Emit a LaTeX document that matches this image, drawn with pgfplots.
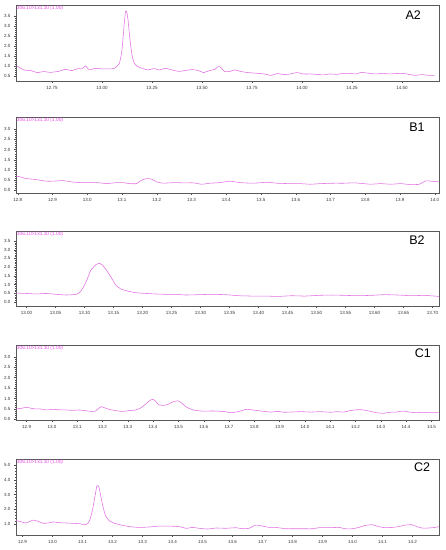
\documentclass[border=0pt]{standalone}
\usepackage{fontspec}
\setmainfont{Liberation Sans}
\usepackage{pgfplots}
\pgfplotsset{compat=1.18}
\definecolor{trace}{RGB}{226,110,226}
\definecolor{hdr}{RGB}{232,70,232}
\pgfplotsset{
 chrom/.style={
  scale only axis, width=423pt, height=76pt, anchor=north west,
  axis line style={black!65, line width=0.4pt},
  tick align=outside, major tick length=2pt, minor tick length=1pt,
  tick style={black!70, line width=0.3pt},
  minor x tick num=4, minor y tick num=4,
  xtick pos=left, ytick pos=left,
  ticklabel style={font=\fontsize{4.5}{5}\selectfont, text=black!80},
  /pgf/number format/assume math mode=true,
  /pgf/number format/fixed, /pgf/number format/fixed zerofill,
  yticklabel style={/pgf/number format/precision=1},
  xticklabel style={/pgf/number format/precision=1},
  enlargelimits=false,
 },
 tr/.style={trace, line width=0.55pt, mark=none, smooth, tension=0.3},
}
\newcommand{\headers}[3]{%
 \node[anchor=south west, font=\fontsize{5}{5}\selectfont, inner sep=0.3pt] at (rel axis cs:0,1) {x1,000};
 \node[anchor=north west, font=\fontsize{4.8}{5}\selectfont, text=hdr, inner sep=0.8pt] at (rel axis cs:0,1) {306.10>131.10 (1.00)};
 \node[font=\fontsize{12.5}{12.5}\selectfont] at (rel axis cs:#1,#2) {#3};
}
\begin{document}
\begin{tikzpicture}
\path[use as bounding box] (0,0) rectangle (446pt,-550pt);
% ---------------- A2
\begin{axis}[chrom, at={(16pt,-5pt)},
 xmin=12.57, xmax=14.685, ymin=0.25, ymax=4.03,
 xtick={12.75,13,13.25,13.5,13.75,14,14.25,14.5},
 xticklabel style={/pgf/number format/precision=2},
 ytick={0.5,1,1.5,2,2.5,3,3.5}]
\addplot[tr] coordinates {
(12.574,1.00)(12.610,0.80)(12.643,0.77)(12.676,0.67)(12.709,0.72)(12.742,0.68)(12.783,0.73)(12.816,0.83)(12.849,0.77)(12.882,0.87)(12.898,0.85)(12.918,1.00)(12.936,0.80)(12.964,0.88)(13.005,0.85)(13.038,0.85)(13.063,0.88)(13.087,1.13)(13.100,1.80)(13.110,2.97)(13.117,3.67)(13.123,3.72)(13.130,3.30)(13.140,2.30)(13.150,1.55)(13.161,1.13)(13.178,0.97)(13.202,0.88)(13.227,0.80)(13.260,0.87)(13.285,0.80)(13.317,0.88)(13.350,0.80)(13.383,0.73)(13.416,0.77)(13.449,0.82)(13.482,0.77)(13.507,0.67)(13.539,0.77)(13.564,0.83)(13.581,0.97)(13.589,0.97)(13.613,0.72)(13.638,0.72)(13.663,0.80)(13.696,0.72)(13.729,0.67)(13.778,0.63)(13.811,0.60)(13.844,0.53)(13.877,0.62)(13.910,0.57)(13.942,0.60)(13.975,0.67)(14.008,0.60)(14.041,0.60)(14.074,0.58)(14.107,0.55)(14.140,0.60)(14.173,0.58)(14.206,0.63)(14.238,0.63)(14.271,0.60)(14.296,0.68)(14.337,0.63)(14.370,0.60)(14.403,0.63)(14.436,0.60)(14.469,0.62)(14.502,0.63)(14.535,0.58)(14.567,0.53)(14.600,0.57)(14.633,0.53)(14.663,0.53)};
\headers{0.939}{0.87}{A2}
\end{axis}
% ---------------- B1
\begin{axis}[chrom, at={(16pt,-117pt)},
 xmin=12.795, xmax=14.012, ymin=-0.13, ymax=3.6,
 xtick={12.8,12.9,13,13.1,13.2,13.3,13.4,13.5,13.6,13.7,13.8,13.9,14},
 ytick={0,0.5,1,1.5,2,2.5,3}]
\addplot[tr] coordinates {
(12.795,0.70)(12.805,0.67)(12.824,0.58)(12.843,0.55)(12.863,0.50)(12.882,0.45)(12.901,0.45)(12.930,0.48)(12.949,0.43)(12.978,0.38)(13.007,0.38)(13.036,0.37)(13.055,0.33)(13.084,0.38)(13.103,0.38)(13.122,0.33)(13.142,0.33)(13.156,0.50)(13.171,0.58)(13.185,0.55)(13.199,0.42)(13.219,0.35)(13.248,0.38)(13.276,0.37)(13.305,0.37)(13.329,0.30)(13.353,0.35)(13.382,0.38)(13.411,0.45)(13.440,0.38)(13.479,0.35)(13.517,0.40)(13.546,0.35)(13.584,0.33)(13.613,0.33)(13.642,0.30)(13.671,0.33)(13.710,0.35)(13.738,0.35)(13.767,0.37)(13.796,0.33)(13.815,0.30)(13.844,0.33)(13.873,0.30)(13.902,0.33)(13.931,0.28)(13.955,0.30)(13.974,0.47)(13.989,0.45)(14.011,0.42)};
\headers{0.948}{0.87}{B1}
\end{axis}
% ---------------- B2
\begin{axis}[chrom, at={(16pt,-231pt)}, height=75pt,
 xmin=12.982, xmax=13.711, ymin=-0.23, ymax=4.07,
 xtick={13,13.05,13.1,13.15,13.2,13.25,13.3,13.35,13.4,13.45,13.5,13.55,13.6,13.65,13.7},
 xticklabel style={/pgf/number format/precision=2},
 ytick={0,0.5,1,1.5,2,2.5,3,3.5}]
\addplot[tr] coordinates {
(12.982,0.51)(13.000,0.49)(13.017,0.46)(13.034,0.49)(13.051,0.44)(13.069,0.40)(13.086,0.44)(13.091,0.53)(13.097,0.78)(13.104,1.25)(13.111,1.82)(13.120,2.15)(13.126,2.21)(13.131,2.11)(13.138,1.82)(13.146,1.41)(13.154,0.97)(13.163,0.74)(13.174,0.63)(13.189,0.53)(13.206,0.49)(13.223,0.46)(13.240,0.44)(13.257,0.44)(13.274,0.40)(13.297,0.42)(13.320,0.44)(13.343,0.42)(13.366,0.36)(13.389,0.34)(13.411,0.34)(13.434,0.32)(13.457,0.36)(13.480,0.34)(13.503,0.38)(13.526,0.40)(13.549,0.38)(13.571,0.36)(13.594,0.38)(13.617,0.42)(13.640,0.40)(13.663,0.36)(13.686,0.38)(13.711,0.32)};
\headers{0.948}{0.88}{B2}
\end{axis}
% ---------------- C1
\begin{axis}[chrom, at={(16pt,-345pt)}, height=75pt,
 xmin=12.858, xmax=14.53, ymin=-0.03, ymax=3.56,
 xtick={12.9,13,13.1,13.2,13.3,13.4,13.5,13.6,13.7,13.8,13.9,14,14.1,14.2,14.3,14.4,14.5},
 ytick={0,0.5,1,1.5,2,2.5,3}]
\addplot[tr] coordinates {
(12.858,0.50)(12.880,0.53)(12.900,0.58)(12.926,0.51)(12.952,0.50)(12.978,0.45)(13.004,0.48)(13.031,0.46)(13.057,0.45)(13.083,0.43)(13.109,0.45)(13.142,0.40)(13.168,0.38)(13.181,0.48)(13.194,0.61)(13.207,0.56)(13.226,0.48)(13.252,0.42)(13.279,0.38)(13.305,0.42)(13.331,0.45)(13.350,0.54)(13.370,0.73)(13.390,0.93)(13.399,0.96)(13.409,0.88)(13.422,0.70)(13.442,0.67)(13.461,0.73)(13.481,0.85)(13.498,0.89)(13.511,0.80)(13.533,0.58)(13.559,0.45)(13.592,0.40)(13.644,0.40)(13.683,0.37)(13.709,0.32)(13.736,0.37)(13.768,0.48)(13.788,0.46)(13.814,0.42)(13.840,0.38)(13.866,0.35)(13.892,0.38)(13.918,0.34)(13.944,0.35)(13.984,0.37)(14.023,0.35)(14.062,0.37)(14.101,0.34)(14.127,0.37)(14.153,0.35)(14.179,0.42)(14.205,0.46)(14.225,0.46)(14.245,0.42)(14.284,0.32)(14.310,0.29)(14.336,0.34)(14.362,0.35)(14.388,0.40)(14.413,0.35)(14.440,0.32)(14.467,0.34)(14.486,0.32)(14.506,0.32)(14.529,0.32)};
\headers{0.962}{0.89}{C1}
\end{axis}
% ---------------- C2
\begin{axis}[chrom, at={(16pt,-459pt)},
 xmin=12.878, xmax=14.288, ymin=0.255, ymax=5.41,
 xtick={12.9,13,13.1,13.2,13.3,13.4,13.5,13.6,13.7,13.8,13.9,14,14.1,14.2},
 ytick={1,2,3,4,5}]
\addplot[tr] coordinates {
(12.878,1.23)(12.891,1.18)(12.908,1.07)(12.924,1.16)(12.935,1.27)(12.952,1.18)(12.969,1.05)(12.985,1.07)(13.002,1.14)(13.024,1.09)(13.046,1.07)(13.068,1.05)(13.090,1.02)(13.107,0.95)(13.118,1.05)(13.126,1.38)(13.135,2.17)(13.143,3.08)(13.148,3.60)(13.154,3.53)(13.160,2.96)(13.168,2.17)(13.177,1.54)(13.190,1.20)(13.207,1.05)(13.229,0.93)(13.257,0.82)(13.290,0.77)(13.323,0.80)(13.356,0.86)(13.389,0.86)(13.423,0.82)(13.445,0.71)(13.467,0.77)(13.489,0.71)(13.517,0.66)(13.545,0.73)(13.578,0.71)(13.611,0.75)(13.633,0.68)(13.655,0.71)(13.677,0.93)(13.700,0.86)(13.722,0.77)(13.744,0.77)(13.777,0.68)(13.799,0.68)(13.832,0.68)(13.866,0.68)(13.888,0.75)(13.921,0.75)(13.954,0.77)(13.976,0.68)(13.999,0.68)(14.021,0.77)(14.043,0.91)(14.065,0.95)(14.087,0.82)(14.109,0.75)(14.131,0.77)(14.154,0.82)(14.176,0.93)(14.198,0.95)(14.215,0.82)(14.231,0.73)(14.253,0.73)(14.275,0.77)(14.288,0.82)};
\headers{0.96}{0.89}{C2}
\end{axis}
\end{tikzpicture}
\end{document}
